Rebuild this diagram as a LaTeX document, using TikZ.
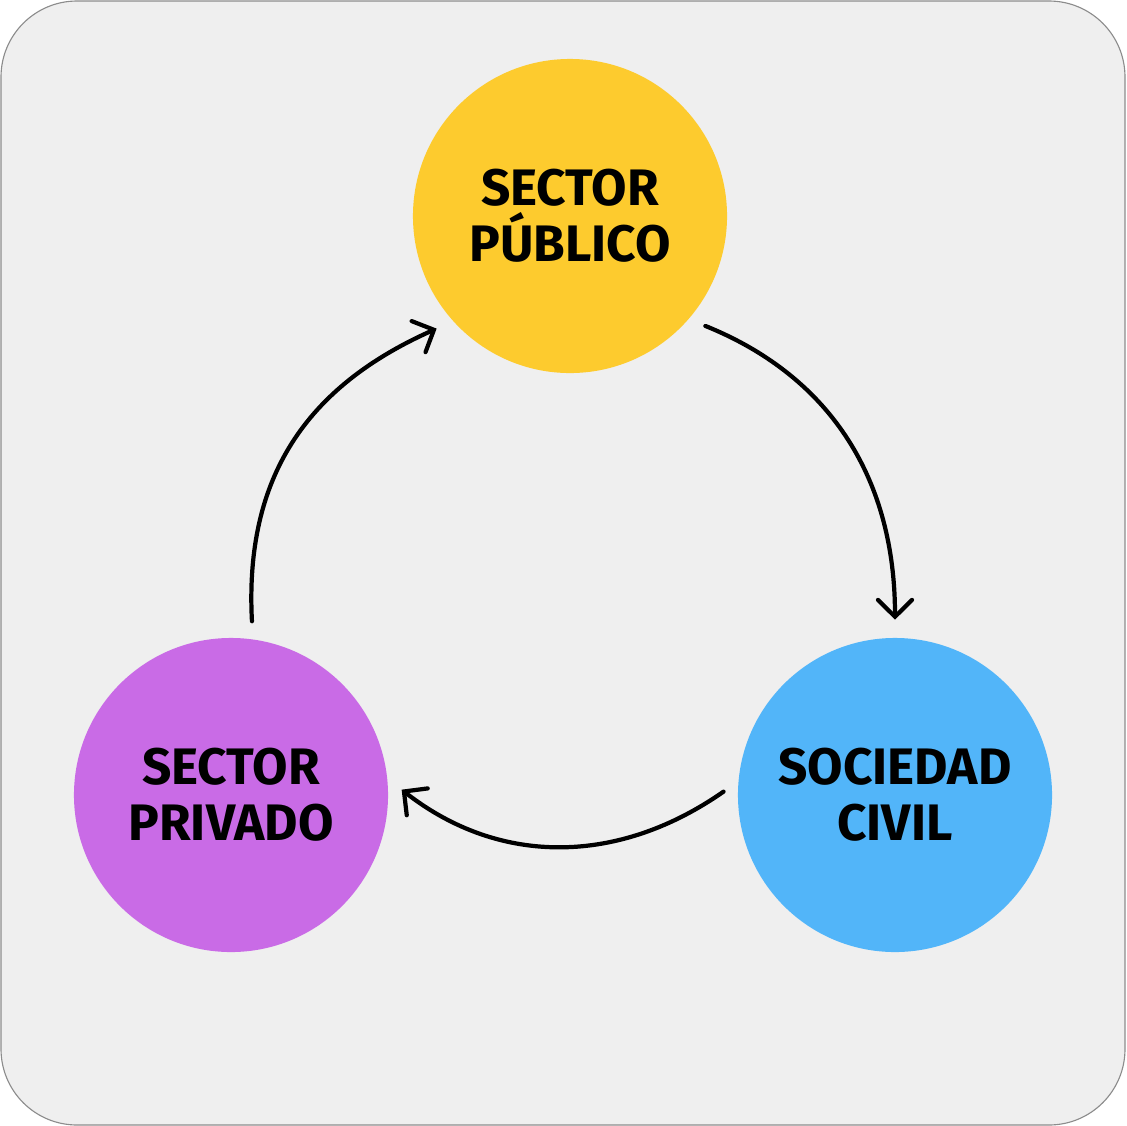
\documentclass[tikz,border=0pt]{standalone}
\usepackage{fontspec}
\setmainfont{Fira Sans}
\usetikzlibrary{arrows.meta}

\definecolor{bgcol}{HTML}{EFEFEF}
\definecolor{framecol}{HTML}{8C8C8C}
\definecolor{pubcol}{HTML}{FDCB2E}
\definecolor{privcol}{HTML}{C96BE6}
\definecolor{civcol}{HTML}{52B5F9}

\begin{document}
\begin{tikzpicture}[x=0.025cm,y=-0.025cm,
  sector node/.style={circle,minimum size=7.85cm,inner sep=0pt,align=center,
    font=\fontsize{36.5}{40}\selectfont\bfseries},
  cycle arrow/.style={-{Straight Barb[length=4.2mm,width=8.5mm,line cap=round]},
    line width=3pt,line cap=round,shorten <=0.45cm,shorten >=0.45cm}]

  \useasboundingbox (0,0) rectangle (1126,1126);
  \draw[framecol,fill=bgcol,line width=0.8pt,rounded corners=1.9cm] (1,1) rectangle (1125,1125);

  \node[sector node,fill=pubcol] (pub) at (570,216) {SECTOR\\PÚBLICO};
  \node[sector node,fill=privcol] (priv) at (231,795) {SECTOR\\PRIVADO};
  \node[sector node,fill=civcol] (civ) at (895,795) {SOCIEDAD\\CIVIL};

  \draw[cycle arrow] (pub.-41) to[out=-22,in=90,looseness=1.05] (civ.90);
  \draw[cycle arrow] (civ.175) to[out=215,in=-38,looseness=1.05] (priv.6);
  \draw[cycle arrow] (priv.82) to[out=93,in=204,looseness=1.1] (pub.222);

\end{tikzpicture}
\end{document}
